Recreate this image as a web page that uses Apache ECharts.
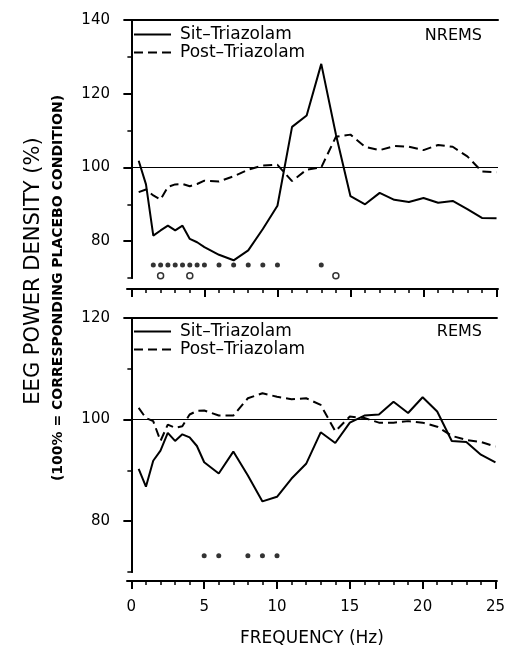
<!DOCTYPE html>
<html>
<head>
<meta charset="utf-8">
<script src="https://cdn.jsdelivr.net/npm/echarts@6/dist/echarts.min.js"></script>
<style>
  html, body { margin: 0; padding: 0; background: #fff; }
  #mycontainer { width: 508px; height: 648px; }
</style>
</head>
<body>
<div id="mycontainer"></div>
<script>
// frequency bins (Hz)
var freqs = [0.5, 1, 1.5, 2, 2.5, 3, 3.5, 4, 4.5, 5, 6, 7, 8, 9, 10, 11, 12, 13, 14, 15, 16, 17, 18, 19, 20, 21, 22, 23, 24, 25];

// NREMS
var nremsSit = [101.8, 95.4, 81.5, 82.9, 84.2, 82.9, 84.2, 80.6, 79.7, 78.4, 76.3, 74.8, 77.5, 83.3, 89.6, 111.0, 114.1, 128.1, 109.0, 92.2, 90.0, 93.1, 91.2, 90.6, 91.7, 90.4, 90.9, 88.7, 86.3, 86.2];
var nremsPost = [93.3, 94.0, 92.4, 91.3, 94.7, 95.4, 95.5, 94.9, 95.5, 96.4, 96.2, 97.6, 99.4, 100.5, 100.7, 96.3, 99.4, 100.0, 108.3, 108.9, 105.6, 104.7, 105.8, 105.6, 104.7, 106.1, 105.6, 103.0, 98.9, 98.7];

// REMS
var remsSit = [90.3, 86.8, 91.9, 93.9, 97.4, 95.8, 97.1, 96.5, 94.8, 91.6, 89.4, 93.7, 89.0, 83.9, 84.8, 88.4, 91.3, 97.5, 95.4, 99.4, 100.8, 101.0, 103.5, 101.3, 104.4, 101.6, 95.8, 95.6, 93.1, 91.6];
var remsPost = [102.3, 100.3, 99.7, 95.8, 99.0, 98.4, 98.7, 101.0, 101.7, 101.8, 100.8, 100.8, 104.2, 105.2, 104.5, 104.0, 104.2, 102.9, 97.7, 100.6, 100.3, 99.4, 99.4, 99.7, 99.4, 98.6, 96.8, 96.0, 95.6, 94.7];

// significance markers (frequency bins)
var nremsSitSig = [1.5, 2, 2.5, 3, 3.5, 4, 4.5, 5, 6, 7, 8, 9, 10, 13];
var nremsPostSig = [2, 4, 14];
var remsSitSig = [5, 6, 8, 9, 10];
var nremsSitSigLevel = 73.5;
var nremsPostSigLevel = 70.6;
var remsSitSigLevel = 73.2;

// ticks
var xMajorTicks = [0, 5, 10, 15, 20, 25];
var xMinorTicks = [1, 2, 3, 4, 6, 7, 8, 9, 11, 12, 13, 14, 16, 17, 18, 19, 21, 22, 23, 24];
var nremsMajorTicks = [80, 100, 120, 140];
var nremsMinorTicks = [70, 90, 110, 130];
var remsMajorTicks = [80, 100, 120];
var remsMinorTicks = [70, 90, 110];

var seriesNames = ['Sit–Triazolam', 'Post–Triazolam'];

var FONT = '"DejaVu Sans", sans-serif';

function pairs(xs, ys) {
    return xs.map(function (x, i) { return [x, ys[i]]; });
}
function level(xs, y) {
    return xs.map(function (x) { return [x, y]; });
}

var dom = document.getElementById('mycontainer');
var chart = echarts.init(dom, null, { renderer: 'canvas' });

var xMin = -0.3, xMax = 25.1;

function xMain(grid, withLabels) {
    return {
        type: 'value', gridIndex: grid, position: 'bottom', offset: grid === 0 ? 11 : 9,
        min: xMin, max: xMax,
        splitLine: { show: false },
        axisLine: { show: true, lineStyle: { color: '#000', width: 2 } },
        axisTick: { show: true, customValues: xMajorTicks, length: 8, lineStyle: { color: '#000', width: 2 } },
        axisLabel: {
            show: withLabels, customValues: xMajorTicks, margin: 19,
            color: '#000', fontSize: 15, fontFamily: FONT
        },
        name: withLabels ? 'FREQUENCY (Hz)' : '',
        nameLocation: 'middle', nameGap: 49,
        nameTextStyle: { color: '#000', fontSize: 17, fontFamily: FONT }
    };
}
function xMinor(grid) {
    return {
        type: 'value', gridIndex: grid, position: 'bottom', offset: grid === 0 ? 11 : 9,
        min: xMin, max: xMax,
        splitLine: { show: false },
        axisLine: { show: false },
        axisTick: { show: true, customValues: xMinorTicks, length: 4, lineStyle: { color: '#000', width: 1.5 } },
        axisLabel: { show: false }
    };
}
function xTop(grid) {
    return {
        type: 'value', gridIndex: grid, position: 'top', min: xMin, max: xMax,
        splitLine: { show: false },
        axisLine: { show: true, lineStyle: { color: '#000', width: 2 } },
        axisTick: { show: false }, axisLabel: { show: false }
    };
}
function yMain(grid, min, max, ticks) {
    return {
        type: 'value', gridIndex: grid, position: 'left', min: min, max: max,
        splitLine: { show: false },
        axisLine: { show: true, lineStyle: { color: '#000', width: 2 } },
        axisTick: { show: true, customValues: ticks, length: 8, lineStyle: { color: '#000', width: 2 } },
        axisLabel: { customValues: ticks, margin: 17, color: '#000', fontSize: 15, fontFamily: FONT }
    };
}
function yMinor(grid, min, max, ticks) {
    return {
        type: 'value', gridIndex: grid, position: 'left', min: min, max: max,
        splitLine: { show: false },
        axisLine: { show: false },
        axisTick: { show: true, customValues: ticks, length: 4, lineStyle: { color: '#000', width: 1.5 } },
        axisLabel: { show: false }
    };
}
function yRight(grid, min, max) {
    return {
        type: 'value', gridIndex: grid, position: 'right', min: min, max: max,
        splitLine: { show: false },
        axisLine: { show: true, lineStyle: { color: '#000', width: 2 } },
        axisTick: { show: false }, axisLabel: { show: false }
    };
}

var refLine = {
    silent: true, symbol: 'none', label: { show: false },
    lineStyle: { color: '#000', width: 1, type: 'solid' },
    data: [{ yAxis: 100 }]
};

function lineSeries(name, xi, yi, ys, dashed, withRef) {
    var s = {
        name: name, type: 'line', xAxisIndex: xi, yAxisIndex: yi,
        data: pairs(freqs, ys), symbol: 'none', animation: false,
        lineStyle: { color: '#000', width: 2, type: dashed ? [9, 5] : 'solid' },
        itemStyle: { color: '#000' }
    };
    if (withRef) s.markLine = refLine;
    return s;
}
function sigSeries(xi, yi, data, open) {
    return {
        type: 'scatter', xAxisIndex: xi, yAxisIndex: yi, data: data, animation: false,
        symbol: 'circle', symbolSize: open ? 6 : 5, silent: true,
        itemStyle: open ? { color: '#fff', borderColor: '#000', borderWidth: 1.5 } : { color: '#000' }
    };
}

var legendBase = {
    orient: 'vertical', left: 133, padding: 0, itemWidth: 37, itemHeight: 14, itemGap: 1,
    data: seriesNames, selectedMode: false,
    itemStyle: { opacity: 0 },
    textStyle: { color: '#000', fontSize: 17, fontFamily: FONT, padding: [0, 0, 0, 4] }
};

var option = {
    backgroundColor: '#fff',
    animation: false,
    title: [
        { text: 'NREMS', right: 26, top: 28, padding: 0, textStyle: { color: '#000', fontSize: 16, fontWeight: 'normal', fontFamily: FONT } },
        { text: 'REMS', right: 26, top: 324, padding: 0, textStyle: { color: '#000', fontSize: 16, fontWeight: 'normal', fontFamily: FONT } }
    ],
    legend: [
        Object.assign({}, legendBase, { top: 26 }),
        Object.assign({}, legendBase, { top: 323 })
    ],
    grid: [
        { left: 127, right: 10, top: 20, height: 258 },
        { left: 127, right: 10, top: 318, height: 258 }
    ],
    xAxis: [xMain(0, false), xMinor(0), xTop(0), xMain(1, true), xMinor(1), xTop(1)],
    yAxis: [
        yMain(0, 70, 140, nremsMajorTicks), yMinor(0, 70, 140, nremsMinorTicks), yRight(0, 70, 140),
        yMain(1, 70, 120, remsMajorTicks), yMinor(1, 70, 120, remsMinorTicks), yRight(1, 70, 120)
    ],
    graphic: [
        {
            type: 'text', x: 34, y: 271, rotation: Math.PI / 2,
            style: { text: 'EEG POWER DENSITY (%)', fill: '#000', font: '21px ' + FONT, align: 'center', verticalAlign: 'middle' }
        },
        {
            type: 'text', x: 58, y: 288, rotation: Math.PI / 2,
            style: { text: '(100% = CORRESPONDING PLACEBO CONDITION)', fill: '#000', font: 'bold 14px ' + FONT, align: 'center', verticalAlign: 'middle' }
        }
    ],
    series: [
        lineSeries(seriesNames[0], 0, 0, nremsSit, false, true),
        lineSeries(seriesNames[1], 0, 0, nremsPost, true, false),
        sigSeries(0, 0, level(nremsSitSig, nremsSitSigLevel), false),
        sigSeries(0, 0, level(nremsPostSig, nremsPostSigLevel), true),
        lineSeries(seriesNames[0], 3, 3, remsSit, false, true),
        lineSeries(seriesNames[1], 3, 3, remsPost, true, false),
        sigSeries(3, 3, level(remsSitSig, remsSitSigLevel), false)
    ]
};

chart.setOption(option);
</script>
</body>
</html>
